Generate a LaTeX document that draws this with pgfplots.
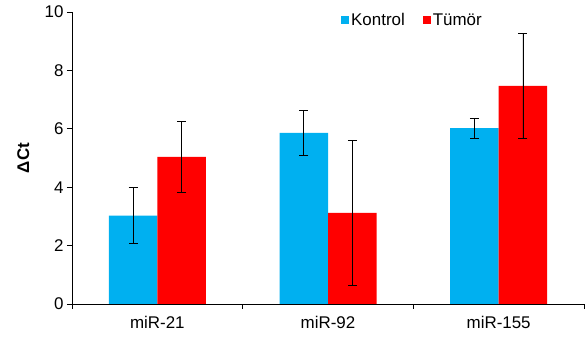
\documentclass[border=0pt]{standalone}
\usepackage{fontspec}
\setmainfont{Liberation Sans}
\usepackage{pgfplots}
\pgfplotsset{compat=1.18}
\definecolor{kblue}{RGB}{0,176,240}
\definecolor{tred}{RGB}{255,0,0}
\begin{document}
\begin{tikzpicture}
\begin{axis}[
  name=ax,
  scale only axis,
  width=512bp, height=292bp,
  xmin=-0.5, xmax=2.5,
  ymin=0, ymax=10,
  ytick={0,2,4,6,8,10},
  xtick={0,1,2},
  xticklabels={miR-21,miR-92,miR-155},
  major x tick style={draw=none},
  minor xtick={-0.5,0.5,1.5,2.5},
  minor x tick style={black, line width=0.8pt},
  minor tick length=5bp,
  major tick length=5bp,
  tick align=outside,
  axis lines*=left,
  axis line style={black, line width=0.8pt, -},
  y tick style={black, line width=0.8pt},
  tick label style={font=\fontsize{17}{20}\selectfont},
  xticklabel style={yshift=-4bp},
  /pgf/number format/assume math mode=true,
  ylabel={ΔCt},
  every axis y label/.style={at={(axis description cs:-0.095,0.5)}, rotate=90, anchor=center, font=\fontsize{17}{20}\selectfont\bfseries},
  ybar=0pt,
  bar width=48.5bp,
  legend style={draw=none, fill=none, at={(axis description cs:0.665,0.972)}, anchor=center, font=\fontsize{17}{20}\selectfont, legend columns=2, /tikz/every even column/.append style={column sep=16bp}, inner sep=0pt},
  legend image code/.code={\fill[#1] (0bp,-4bp) rectangle (8bp,4bp);},
  error bars/error bar style={black, line width=0.6pt},
  error bars/error mark options={black, rotate=90, mark size=4.5bp, line width=0.6pt},
]
\addplot[fill=kblue, draw=none, error bars/.cd, y dir=both, y explicit] coordinates {
  (0,3.03) +- (0,0.96)
  (1,5.86) +- (0,0.76)
  (2,6.02) +- (0,0.33)
};
\addlegendentry{Kontrol}
\addplot[fill=tred, draw=none, error bars/.cd, y dir=both, y explicit] coordinates {
  (0,5.04) +- (0,1.20)
  (1,3.12) +- (0,2.49)
  (2,7.47) +- (0,1.79)
};
\addlegendentry{Tümör}
\end{axis}
\pgfresetboundingbox
\path ([shift={(-72bp,-36bp)}]ax.south west) rectangle ([shift={(2bp,12bp)}]ax.north east);
\end{tikzpicture}
\end{document}
